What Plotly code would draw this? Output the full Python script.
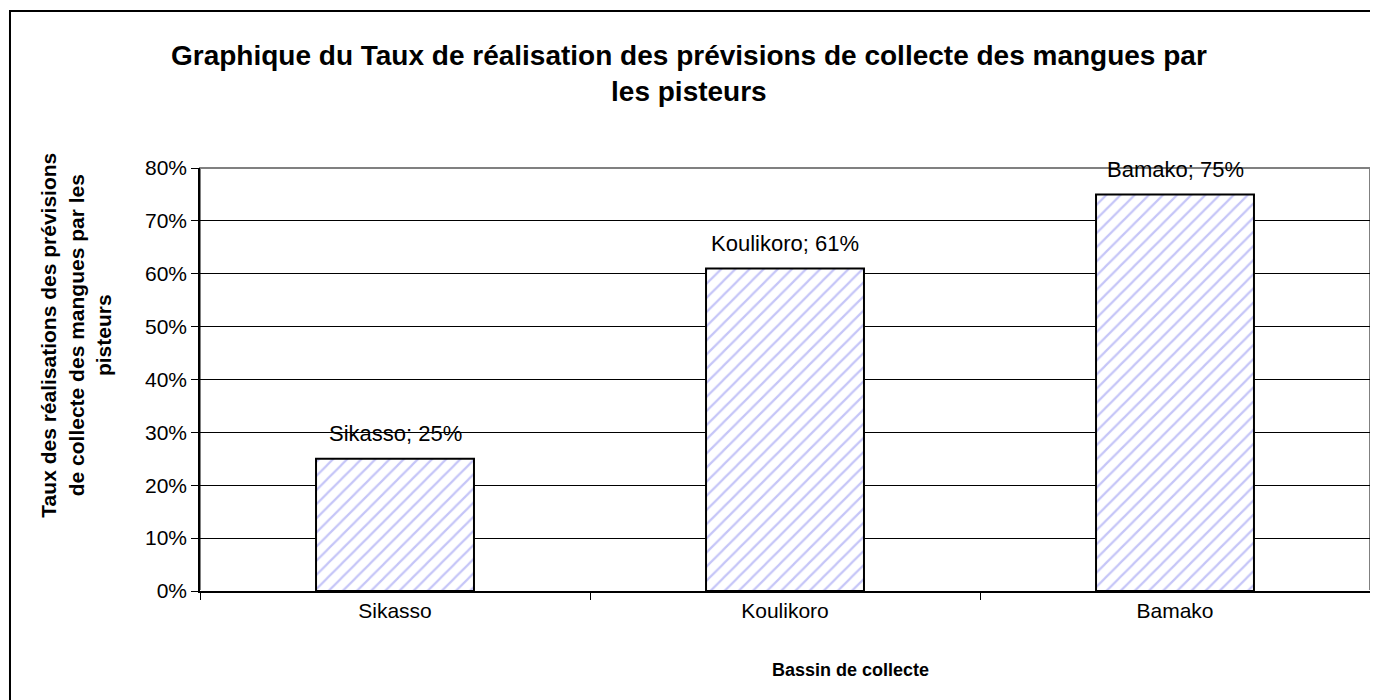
import plotly.graph_objects as go

bassins = ["Sikasso", "Koulikoro", "Bamako"]
taux = [0.25, 0.61, 0.75]
etiquettes = [f"{b}; {round(t * 100)}%" for b, t in zip(bassins, taux)]

titre = "Graphique du Taux de réalisation des prévisions de collecte des mangues par<br>les pisteurs"
titre_x = "Bassin de collecte"
titre_y = "Taux des réalisations des prévisions<br>de collecte des mangues par les<br>pisteurs"

FONT = "Liberation Sans, Arial, sans-serif"

fig = go.Figure()
fig.add_trace(
    go.Bar(
        x=bassins,
        y=taux,
        width=0.405,
        marker=dict(
            color="white",
            line=dict(color="black", width=2),
            pattern=dict(shape="/", fgcolor="#8c8cf0", size=10, solidity=0.22),
        ),
        hovertemplate="%{x}: %{y:.0%}<extra></extra>",
        showlegend=False,
    )
)

# data labels a bit above each bar, like the original
for b, t, lab in zip(bassins, taux, etiquettes):
    fig.add_annotation(x=b, y=t, text=lab, showarrow=False, yshift=25,
                       font=dict(size=22, color="black"))

# axis titles placed freely (Excel puts them off-centre)
fig.add_annotation(xref="paper", yref="paper", x=0.556, y=-0.186, text=f"<b>{titre_x}</b>",
                   showarrow=False, xanchor="center", yanchor="middle", font=dict(size=18))
fig.add_annotation(xref="paper", yref="paper", x=-0.1055, y=0.605, text=f"<b>{titre_y}</b>",
                   textangle=-90, showarrow=False, xanchor="center", yanchor="middle",
                   font=dict(size=21))

# gray plot-area frame (top/right), and outer chart border
fig.add_shape(type="rect", xref="paper", yref="paper", x0=0, y0=0, x1=1, y1=1,
              line=dict(color="#808080", width=2), layer="below")
fig.add_shape(type="rect", xref="paper", yref="paper", x0=-0.1624, y0=-0.3, x1=1.03, y1=1.371,
              line=dict(color="black", width=2))

fig.update_layout(
    width=1370,
    height=692,
    margin=dict(l=192, r=8, t=160, b=109),
    paper_bgcolor="white",
    plot_bgcolor="white",
    font=dict(family=FONT, size=21, color="black"),
    title=dict(
        text=f"<b>{titre}</b>",
        x=0.497, xanchor="center", y=0.918, yanchor="middle",
        font=dict(size=28),
    ),
)
fig.update_xaxes(
    showline=True, linecolor="black", linewidth=1.5,
    ticks="outside", tickson="boundaries", ticklen=7, tickcolor="black",
    showgrid=False,
)
fig.update_yaxes(
    range=[0, 0.8], dtick=0.1, tickformat=".0%",
    showline=True, linecolor="black", linewidth=1.5,
    ticks="outside", ticklen=7, tickcolor="black",
    showgrid=True, gridcolor="black", gridwidth=1,
)

fig.write_html("out.html")
